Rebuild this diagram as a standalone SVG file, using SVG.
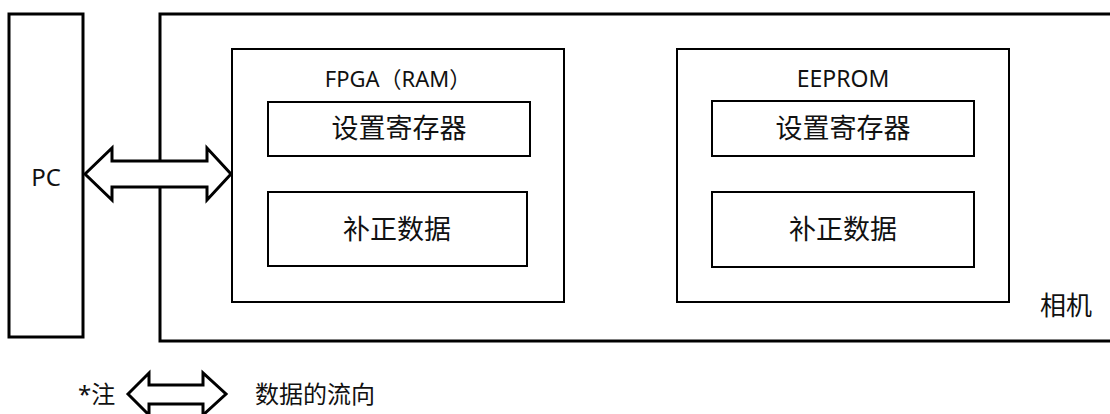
<svg xmlns="http://www.w3.org/2000/svg" width="1110" height="414" viewBox="0 0 1110 414">
<style>
.thick{fill:#fff;stroke:#000;stroke-width:3}
.thin{fill:#fff;stroke:#000;stroke-width:2}
text{font-family:"Noto Sans","Noto Sans CJK SC",sans-serif;fill:#111}
.lat{font-size:22px}
.cjk{font-size:27px}
.leg{font-size:24px}
</style>
<rect width="1110" height="414" fill="#fff"/>
<g id="pc">
<rect class="thick" x="9" y="14" width="74" height="323"/>
<text class="lat" x="46" y="186" text-anchor="middle" style="font-size:24px">PC</text>
</g>
<g id="camera">
<rect class="thick" x="160" y="14" width="960" height="327"/>
<text class="cjk" x="1066" y="315" text-anchor="middle" style="font-size:26px">相机</text>
</g>
<g id="fpga">
<rect class="thin" x="232" y="49" width="332" height="253"/>
<text class="lat" x="398" y="87" text-anchor="middle">FPGA（RAM）</text>
</g>
<g id="fpga-reg">
<rect class="thin" x="268" y="102" width="262" height="54"/>
<text class="cjk" x="399" y="138" text-anchor="middle">设置寄存器</text>
</g>
<g id="fpga-data">
<rect class="thin" x="268" y="192" width="259" height="74"/>
<text class="cjk" x="397" y="239" text-anchor="middle">补正数据</text>
</g>
<g id="eeprom">
<rect class="thin" x="677" y="49" width="332" height="253"/>
<text class="lat" x="843" y="87" text-anchor="middle" style="font-size:23px">EEPROM</text>
</g>
<g id="eeprom-reg">
<rect class="thin" x="712" y="101" width="262" height="55"/>
<text class="cjk" x="843" y="138" text-anchor="middle">设置寄存器</text>
</g>
<g id="eeprom-data">
<rect class="thin" x="712" y="192" width="262" height="75"/>
<text class="cjk" x="843" y="239" text-anchor="middle">补正数据</text>
</g>
<g id="connectors">
<path class="thick" stroke-linejoin="miter" d="M85,174 L112,148 L112,161 L207,161 L207,148 L231,174 L207,200 L207,187 L112,187 L112,200 Z"/>
</g>
<g id="legend">
<text class="leg" x="78" y="403">*注</text>
<path class="thick" d="M128,394 L149,373 L149,385 L203,385 L203,373 L226,394 L203,415 L203,404 L149,404 L149,415 Z"/>
<text class="leg" x="255" y="403">数据的流向</text>
</g>
</svg>
